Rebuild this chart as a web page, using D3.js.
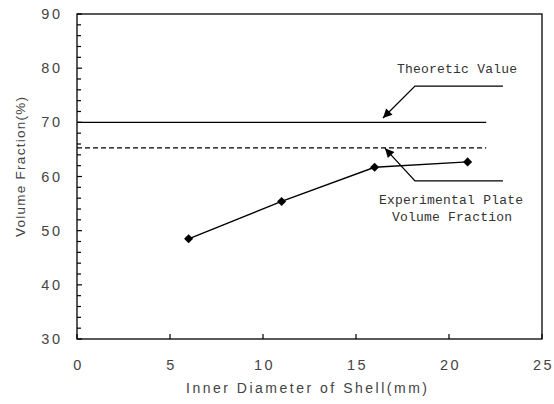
<!DOCTYPE html>
<html><head><meta charset="utf-8">
<script src="https://cdn.jsdelivr.net/npm/d3@7"></script>
<style>body{margin:0;background:#fff}svg{display:block}</style>
</head><body>
<script>
const diameters = [6, 11, 16, 21];
const experimental = [48.5, 55.4, 61.7, 62.7];
const theoreticValue = 70;
const plateValue = 65.3;
const refLineX = [0, 22];
const xTicks = [0, 5, 10, 15, 20, 25];
const yTicks = [30, 40, 50, 60, 70, 80, 90];
const yMinor = d3.range(30, 91, 2);
const xTitle = "Inner Diameter of Shell(mm)";
const yTitle = "Volume Fraction(%)";
const annoTheoretic = ["Theoretic Value"];
const annoPlate = ["Experimental Plate", "Volume Fraction"];

const W = 554, H = 404;
const svg = d3.select("body").append("svg").attr("width", W).attr("height", H);
const x = d3.scaleLinear().domain([0, 25]).range([77, 542]);
const y = d3.scaleLinear().domain([30, 90]).range([339, 14]);

const defs = svg.append("defs");
defs.append("marker").attr("id","ah").attr("viewBox","0 0 10 10").attr("refX",10).attr("refY",5)
  .attr("markerWidth",11).attr("markerHeight",9).attr("markerUnits","userSpaceOnUse").attr("orient","auto")
  .append("path").attr("d","M0,0 L10,5 L0,10 Z").attr("fill","#000");

// frame
svg.append("rect").attr("x", x(0)).attr("y", y(90)).attr("width", x(25)-x(0)).attr("height", y(30)-y(90))
  .attr("fill","none").attr("stroke","#000").attr("stroke-width",1.3);

// y ticks (inward)
svg.append("g").selectAll("line").data(yMinor).join("line")
  .attr("x1", x(0)).attr("x2", d => x(0) + (d % 10 === 0 ? 5 : 4))
  .attr("y1", d => y(d)).attr("y2", d => y(d)).attr("stroke","#000").attr("stroke-width",1.2);
// x ticks (inward)
svg.append("g").selectAll("line").data(xTicks).join("line")
  .attr("x1", d => x(d)).attr("x2", d => x(d)).attr("y1", y(30)).attr("y2", y(30) - 5)
  .attr("stroke","#000").attr("stroke-width",1.2);

const lab = "Liberation Sans, Arial, sans-serif";
svg.append("g").selectAll("text").data(yTicks).join("text")
  .attr("x", 60).attr("y", d => y(d) + 5).attr("text-anchor","end")
  .attr("font-family", lab).attr("font-size", 14.5).attr("letter-spacing", 2.5).attr("fill","#444")
  .attr("dx", 2.5).text(d => d);
svg.append("g").selectAll("text").data(xTicks).join("text")
  .attr("x", d => x(d) + 1.5).attr("y", 370).attr("text-anchor","middle")
  .attr("font-family", lab).attr("font-size", 14.5).attr("letter-spacing", 2.5).attr("fill","#444")
  .text(d => d);
svg.append("text").attr("x", 186).attr("y", 393).attr("font-family", lab).attr("font-size", 14)
  .attr("fill","#444").attr("textLength", 241).attr("lengthAdjust","spacing").text(xTitle);
svg.append("text").attr("transform", "translate(25,237) rotate(-90)").attr("font-family", lab).attr("font-size", 13.5)
  .attr("fill","#444").attr("textLength", 140).attr("lengthAdjust","spacing").text(yTitle);

// reference lines
svg.append("line").attr("x1", x(refLineX[0])).attr("x2", x(refLineX[1]))
  .attr("y1", y(theoreticValue)).attr("y2", y(theoreticValue)).attr("stroke","#000").attr("stroke-width",1.3);
svg.append("line").attr("x1", x(refLineX[0])).attr("x2", x(refLineX[1]))
  .attr("y1", y(plateValue)).attr("y2", y(plateValue)).attr("stroke","#000").attr("stroke-width",1.2)
  .attr("stroke-dasharray","5,3");

// experimental series
const pts = diameters.map((d, i) => [d, experimental[i]]);
svg.append("path").datum(pts).attr("fill","none").attr("stroke","#000").attr("stroke-width",1.4)
  .attr("d", d3.line().x(d => x(d[0])).y(d => y(d[1])));
svg.append("g").selectAll("path").data(pts).join("path")
  .attr("transform", d => `translate(${x(d[0])},${y(d[1])})`)
  .attr("d", d3.symbol(d3.symbolDiamond2, 52)).attr("fill","#000");

// annotations
const arrow1 = [[22.9, 76.7], [18.17, 76.7], [16.45, 70.8]];
const arrow2 = [[22.9, 59.2], [18.17, 59.2], [16.56, 65.2]];
const ln = d3.line().x(d => x(d[0])).y(d => y(d[1]));
[arrow1, arrow2].forEach(a => svg.append("path").attr("d", ln(a)).attr("fill","none")
  .attr("stroke","#000").attr("stroke-width",1.3).attr("marker-end","url(#ah)"));

const mono = "Liberation Mono, Courier New, monospace";
svg.append("text").attr("x", 397).attr("y", 73).attr("font-family", mono).attr("font-size", 13)
  .attr("fill","#333").attr("textLength", 120).attr("lengthAdjust","spacing").text(annoTheoretic[0]);
svg.append("text").attr("x", 379).attr("y", 204).attr("font-family", mono).attr("font-size", 13)
  .attr("fill","#333").attr("textLength", 144).attr("lengthAdjust","spacing").text(annoPlate[0]);
svg.append("text").attr("x", 392).attr("y", 221).attr("font-family", mono).attr("font-size", 13)
  .attr("fill","#333").attr("textLength", 120).attr("lengthAdjust","spacing").text(annoPlate[1]);
</script>
</body></html>
